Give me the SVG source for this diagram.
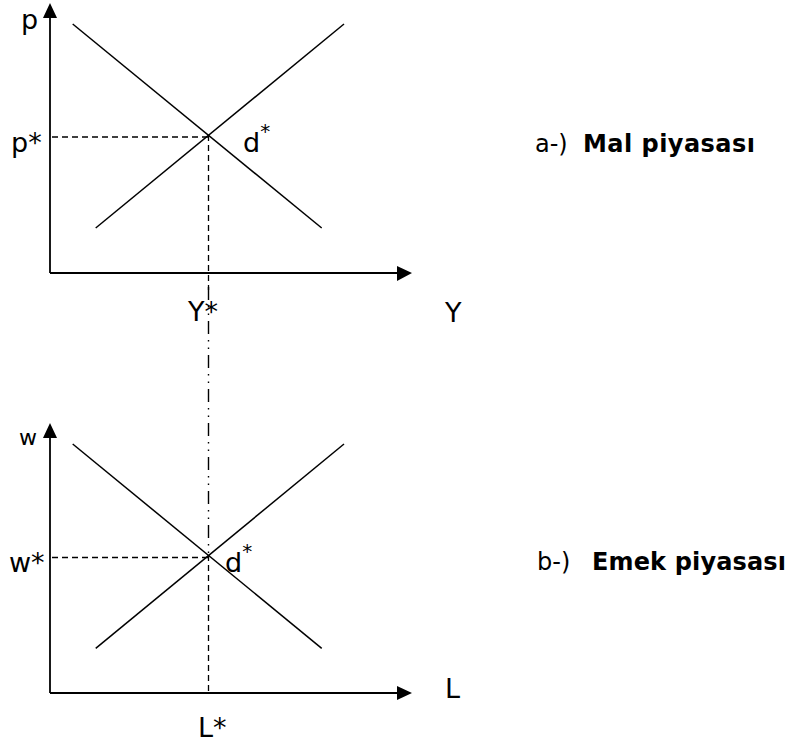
<svg xmlns="http://www.w3.org/2000/svg" width="794" height="744" viewBox="0 0 794 744">
<style>
.ax{stroke:#000;stroke-width:1.8;fill:none}
.ln{stroke:#000;stroke-width:1.5;fill:none}
.da{stroke:#000;stroke-width:1.3;fill:none;stroke-dasharray:6 4}
.dd{stroke:#000;stroke-width:1.4;fill:none;stroke-dasharray:13 6 1.5 6 1.5 6}
.ah{fill:#000}
text{font-family:"DejaVu Sans","Open Sans",sans-serif;fill:#000}
.lb{font-size:27px}
.sm{font-size:20px}
.ti{font-size:24px}
.b{font-weight:bold}
</style>
<rect width="794" height="744" fill="#fff"/>
<g id="connectors">
<line class="dd" x1="208.5" y1="287" x2="208.5" y2="555"/>
</g>
<g id="chart-a">
<line class="ax" x1="50" y1="16" x2="50" y2="273"/>
<line class="ax" x1="50" y1="273" x2="399" y2="273"/>
<polygon class="ah" points="50,3 43,18 57,18"/>
<polygon class="ah" points="412,273 397,266 397,281"/>
<line class="ln" x1="72.7" y1="24" x2="321.7" y2="228"/>
<line class="ln" x1="95.7" y1="228" x2="344" y2="24"/>
<line class="da" x1="52" y1="137" x2="208.5" y2="137"/>
<line class="da" x1="208.5" y1="135" x2="208.5" y2="290"/>
<text class="lb" x="21" y="29">p</text>
<text class="lb" x="11" y="152">p*</text>
<text class="lb" x="243" y="152">d<tspan class="sm" dy="-14">*</tspan></text>
<text class="lb" x="188" y="321">Y*</text>
<text class="lb" x="445" y="322">Y</text>
<text class="ti" x="535" y="152">a-)<tspan class="b" x="583" textLength="172" lengthAdjust="spacing">Mal piyasası</tspan></text>
</g>
<g id="chart-b">
<line class="ax" x1="50" y1="436" x2="50" y2="693"/>
<line class="ax" x1="50" y1="693" x2="399" y2="693"/>
<polygon class="ah" points="50,423 43,438 57,438"/>
<polygon class="ah" points="412,693 397,686 397,700"/>
<line class="ln" x1="72.7" y1="444" x2="321.7" y2="648.3"/>
<line class="ln" x1="95.7" y1="648.3" x2="344" y2="444"/>
<line class="da" x1="52" y1="557.5" x2="208.5" y2="557.5"/>
<line class="da" x1="208.5" y1="555" x2="208.5" y2="693"/>
<text x="19" y="445" style="font-size:22px">w</text>
<text class="lb" x="9" y="572">w*</text>
<text class="lb" x="225" y="572">d<tspan class="sm" dy="-14">*</tspan></text>
<text class="lb" x="445" y="698">L</text>
<text class="lb" x="198" y="737">L*</text>
<text class="ti" x="537" y="570">b-)<tspan class="b" x="592" textLength="194" lengthAdjust="spacing">Emek piyasası</tspan></text>
</g>
</svg>
